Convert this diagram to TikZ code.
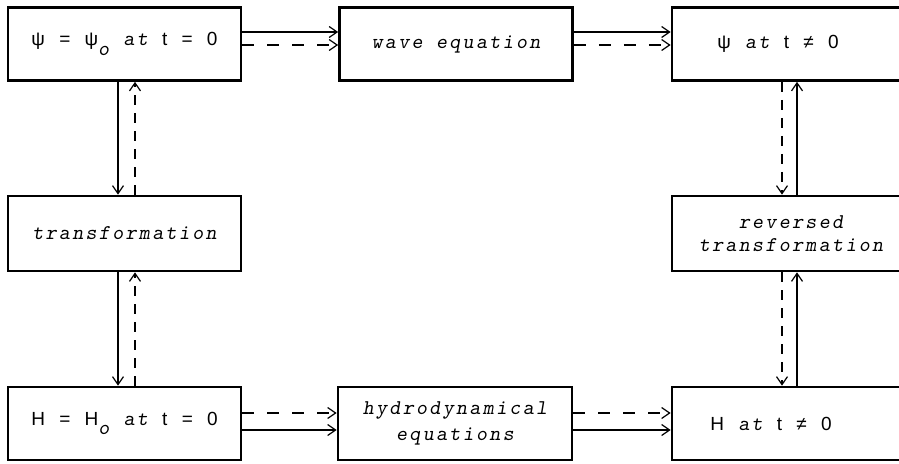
\documentclass[tikz,border=0pt]{standalone}
\usepackage{fontspec}
\setmainfont{Liberation Sans}
\newfontfamily\twfont[LetterSpace=11]{lmmonoslant10-regular.otf}
\usetikzlibrary{arrows.meta}

% slanted typewriter words and subscripts
\newcommand\tword[1]{{\fontsize{21}{23}\twfont #1}}
\newcommand\tsub[1]{\raisebox{-0.5em}{\fontsize{21}{23}\twfont #1}}
\newcommand\gp{\hspace{0.75em}}

\begin{document}
\begin{tikzpicture}[x=1pt,y=-1pt,
  box/.style={draw, line width=2.7pt, minimum width=233pt, minimum height=73pt,
    inner sep=0pt, align=center, font=\fontsize{19}{23}\selectfont},
  widebox/.style={box, minimum width=238pt},
  lbl/.style={inner sep=0pt, font=\fontsize{19}{23}\selectfont},
  flow/.style={line width=1.2pt,
    -{Straight Barb[length=8pt,width=11pt,line width=1.2pt]}},
  hdash/.style={flow, dash pattern=on 12pt off 13pt},
  vdash/.style={flow, dash pattern=on 10pt off 8pt}]

\useasboundingbox (0,0) rectangle (899,463);
\fill[white] (0,0) rectangle (899,463);

% boxes
\node[box] (A) at (124.5,44) {ψ\gp=\gp ψ\tsub{o}\gp\tword{at}\gp t\gp=\gp 0};
\node[box] (B) at (456,44) {\tword{wave equation}};
\node[widebox] (C) at (791,44) {};
\node[lbl] (Ct) at (778,44) {ψ\gp\tword{at}\gp t\gp ≠\gp 0};

\node[box, minimum height=75pt] (D) at (124.5,233.5) {\tword{transformation}};
\node[widebox, minimum height=75pt] (E) at (791,233.5)
  {\tword{reversed}\\\tword{transformation}};

\node[box] (F) at (124.5,423.5) {H\gp=\gp H\tsub{o}\gp\tword{at}\gp t\gp=\gp 0};
\node[box, minimum width=234pt] (G) at (455,423.5)
  {\tword{hydrodynamical}\\[3pt]\tword{equations}};
\node[widebox] (H) at (791,423.5) {};
\node[lbl] (Ht) at (771,423.5) {H\gp\tword{at}\gp t\gp ≠\gp 0};

% top row
\draw[flow]  ([yshift=12pt]A.east) -- ([yshift=12pt]B.west);
\draw[hdash] ([yshift=-1pt]A.east) -- ([yshift=-1pt]B.west);
\draw[flow]  ([yshift=12pt]B.east) -- ([yshift=12pt]C.west);
\draw[hdash] ([yshift=-1pt]B.east) -- ([yshift=-1pt]C.west);

% bottom row
\draw[hdash] ([yshift=10.5pt]F.east) -- ([yshift=10.5pt]G.west);
\draw[flow]  ([yshift=-6.5pt]F.east) -- ([yshift=-6.5pt]G.west);
\draw[hdash] ([yshift=10.5pt]G.east) -- ([yshift=10.5pt]H.west);
\draw[flow]  ([yshift=-6.5pt]G.east) -- ([yshift=-6.5pt]H.west);

% left column
\draw[flow]  ([xshift=-6.5pt]A.south) -- ([xshift=-6.5pt]D.north);
\draw[vdash] ([xshift=10.5pt]D.north) -- ([xshift=10.5pt]A.south);
\draw[flow]  ([xshift=-6.5pt]D.south) -- ([xshift=-6.5pt]F.north);
\draw[vdash] ([xshift=10.5pt]F.north) -- ([xshift=10.5pt]D.south);

% right column
\draw[vdash] ([xshift=-9pt]C.south) -- ([xshift=-9pt]E.north);
\draw[flow]  ([xshift=6pt]E.north) -- ([xshift=6pt]C.south);
\draw[vdash] ([xshift=-9pt]E.south) -- ([xshift=-9pt]H.north);
\draw[flow]  ([xshift=6pt]H.north) -- ([xshift=6pt]E.south);
\end{tikzpicture}
\end{document}
